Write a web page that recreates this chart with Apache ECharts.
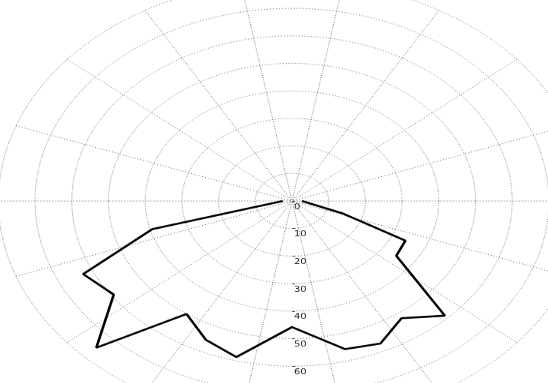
<!DOCTYPE html>
<html><head><meta charset="utf-8">
<script src="https://cdn.jsdelivr.net/npm/echarts@6/dist/echarts.min.js"></script>
<style>
html,body{margin:0;padding:0;width:548px;height:383px;overflow:hidden;background:#fff;}
#chart{width:548px;height:511px;transform:scaleY(0.75);transform-origin:0 0;}
</style></head><body><div id="chart"></div>
<script>
// angle in degrees (counter-clockwise from the right), radius value
const angles = [0, 342, 335, 325, 315, 305, 295, 285, 270, 255, 245, 235, 225, 215, 205, 195, 180];
const radii  = [2.7, 14.3, 34.1, 34.7, 58.9, 52.0, 57.1, 55.7, 45.8, 58.7, 55.6, 50.1, 75.4, 59.3, 62.8, 39.4, 2.5];
const radiusTicks = [0, 10, 20, 30, 40, 50, 60, 70, 80];
const angleTicks = [0, 20, 40, 60, 80, 100, 120, 140, 160, 180, 200, 220, 240, 260, 280, 300, 320, 340, 360];

const chart = echarts.init(document.getElementById('chart'), null, {renderer: 'canvas'});
const gridLine = {show: true, lineStyle: {color: '#6e6e6e', width: 1, type: [1, 2]}};
const rMin = radiusTicks[0], rMax = radiusTicks[radiusTicks.length - 1];
const rInt = radiusTicks[1] - radiusTicks[0];
const aInt = angleTicks[1] - angleTicks[0];
const option = {
  animation: false,
  backgroundColor: '#ffffff',
  polar: [
    {center: [292, 268], radius: 293.6},
    {center: [292, 268], radius: 293.6}
  ],
  angleAxis: [
    {polarIndex: 0, type: 'value', min: angleTicks[0], max: angleTicks[angleTicks.length - 1], interval: aInt,
     startAngle: 0, clockwise: false,
     axisLine: {show: false}, axisTick: {show: false}, axisLabel: {show: false},
     splitLine: gridLine},
    {polarIndex: 1, type: 'value', min: 0, max: 360, startAngle: 270, clockwise: false,
     axisLine: {show: false}, axisTick: {show: false}, axisLabel: {show: false}, splitLine: {show: false}}
  ],
  radiusAxis: [
    {polarIndex: 0, type: 'value', min: rMin, max: rMax, interval: rInt,
     axisLine: {show: false}, axisTick: {show: false}, axisLabel: {show: false},
     splitLine: gridLine},
    {polarIndex: 1, type: 'value', min: rMin, max: rMax, interval: rInt,
     axisLine: {show: false},
     axisTick: {show: true, length: 3, lineStyle: {color: '#444'}},
     axisLabel: {show: true, color: '#222', fontSize: 10, fontFamily: 'DejaVu Sans', margin: 2,
                 align: 'left', verticalAlign: 'top', padding: [3, 0, 0, 0]},
     splitLine: {show: false}}
  ],
  series: [{
    type: 'line',
    coordinateSystem: 'polar',
    polarIndex: 0,
    clip: false,
    symbol: 'none',
    lineStyle: {color: '#000', width: 2.6},
    data: angles.map((a, i) => [radii[i], a])
  }]
};
chart.setOption(option);
</script></body></html>
